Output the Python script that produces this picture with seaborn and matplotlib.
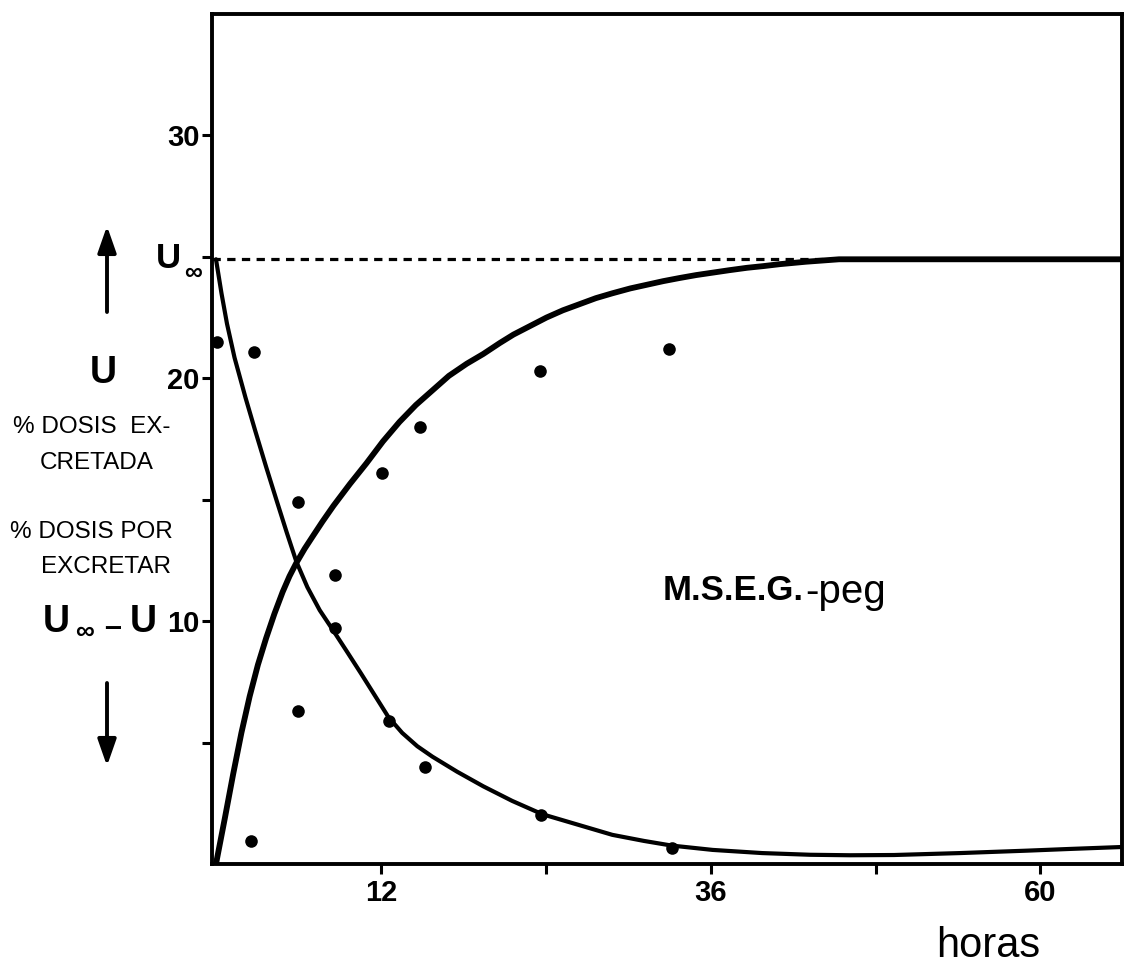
import matplotlib
matplotlib.use("Agg")
import matplotlib.pyplot as plt
import seaborn as sns

# Urinary excretion of M.S.E.G.-peg: cumulative excreted U and remaining U_inf - U (% dose) vs hours
U_INF = 24.9

# fitted curve, cumulative amount excreted (U)
curve_u_hours = [0, 0.65, 1.25, 1.85, 2.45, 3.05, 3.65, 4.25, 4.85, 5.35, 5.85, 6.45, 7.05,
                 7.75, 8.55, 9.75, 10.95, 12.15, 13.35, 14.55, 15.75, 16.95, 18.25, 19.45,
                 20.65, 21.65, 22.85, 24.05, 25.25, 26.45, 27.65, 28.85, 30.15, 31.35,
                 32.55, 33.75, 34.95, 36.15, 37.35, 38.65, 39.85, 41.05, 42.95, 45.35, 65.94]
curve_u_pct = [0, 1.9, 3.7, 5.4, 6.9, 8.2, 9.3, 10.3, 11.2, 11.85, 12.4, 12.98, 13.5,
               14.1, 14.75, 15.65, 16.5, 17.4, 18.2, 18.9, 19.5, 20.1, 20.6, 21.0, 21.45,
               21.8, 22.15, 22.5, 22.8, 23.05, 23.3, 23.5, 23.7, 23.85, 24.0, 24.13, 24.25,
               24.35, 24.45, 24.55, 24.62, 24.7, 24.8, 24.9, 24.9]

# fitted curve, amount still to be excreted (U_inf - U)
curve_rem_hours = [0, 0.4, 0.8, 1.35, 2.15, 2.85, 3.65, 4.45, 5.15, 5.85, 6.65, 7.55,
                   8.55, 9.55, 10.55, 11.55, 12.55, 13.55, 14.65, 15.75, 17.55, 19.45,
                   21.55, 23.75, 26.45, 28.85, 31.15, 33.15, 36.15, 39.75, 43.25, 46.15,
                   49.35, 54.15, 59.05, 62.15, 65.94]
curve_rem_pct = [24.9, 23.5, 22.25, 20.85, 19.2, 17.85, 16.35, 14.9, 13.65, 12.45, 11.4,
                 10.45, 9.6, 8.73, 7.85, 6.95, 6.05, 5.4, 4.85, 4.42, 3.8, 3.2, 2.6,
                 2.05, 1.6, 1.2, 0.95, 0.76, 0.58, 0.45, 0.38, 0.36, 0.37, 0.45, 0.55,
                 0.62, 0.7]

# observed values
obs_u_hours = [2.55, 5.97, 8.66, 12.08, 14.85, 23.58, 32.97]
obs_u_pct = [0.95, 6.3, 11.9, 16.1, 18.0, 20.3, 21.2]
obs_rem_hours = [0.07, 2.8, 5.97, 8.66, 12.59, 15.21, 23.65, 33.19]
obs_rem_pct = [21.5, 21.1, 14.9, 9.7, 5.9, 4.0, 2.0, 0.66]

x_ticks = [12, 24, 36, 48, 60]
x_tick_labels = ["12", "", "36", "", "60"]
y_ticks = [5, 10, 15, 20, 25, 30]
y_tick_labels = ["", "10", "", "20", "", "30"]

sns.set_theme(style="ticks")
FAM = ["Liberation Sans", "DejaVu Sans"]
plt.rcParams["font.family"] = FAM

W, H = 1125, 975
fig = plt.figure(figsize=(W / 100, H / 100), dpi=100)
fig.patch.set_facecolor("white")
ax = fig.add_axes([212 / W, 1 - 864 / H, (1122 - 212) / W, (864 - 14) / H])
ax.set_facecolor("white")

ax.axhline(U_INF, color="black", lw=2.3, ls=(0, (2.6, 2.0)), zorder=1)
sns.lineplot(x=curve_rem_hours, y=curve_rem_pct, ax=ax, color="black", lw=3.0,
             estimator=None, sort=False, zorder=2)
sns.lineplot(x=curve_u_hours, y=curve_u_pct, ax=ax, color="black", lw=4.2,
             estimator=None, sort=False, zorder=2)
sns.scatterplot(x=obs_u_hours, y=obs_u_pct, ax=ax, s=82, color="black",
                linewidth=0, zorder=3)
sns.scatterplot(x=obs_rem_hours, y=obs_rem_pct, ax=ax, s=82, color="black",
                linewidth=0, zorder=3)

ax.set_xlim(-0.29, 65.94)
ax.set_ylim(0, 35)
ax.set_xticks(x_ticks, labels=x_tick_labels)
ax.set_yticks(y_ticks, labels=y_tick_labels)
ax.tick_params(direction="out", length=7, width=2.2, color="black",
               labelsize=21, pad=2, labelcolor="black")
ax.tick_params(axis="x", pad=4)
for lab in ax.get_xticklabels() + ax.get_yticklabels():
    lab.set_fontweight("bold")
ax.set_xlabel("")
ax.set_ylabel("")
for side in ["left", "right", "top", "bottom"]:
    ax.spines[side].set_visible(True)
    ax.spines[side].set_color("black")
    ax.spines[side].set_linewidth(2.8)


def fx(x):
    return x / W


def fy(y):
    return 1 - y / H


def ftext(x, y, s, size, weight="normal", ha="center"):
    fig.text(fx(x), fy(y), s, fontsize=size, fontweight=weight, ha=ha,
             va="center", color="black", family=FAM)


# U_inf marker beside the axis
ftext(168, 258, "U", 25, "bold")
ftext(193, 273, "∞", 18, "bold")

# left-hand legend text
ftext(103, 373, "U", 27, "bold")
ftext(92, 427, "% DOSIS  EX-", 17.5)
ftext(97, 463, "CRETADA", 17.5)
ftext(91, 532, "% DOSIS POR", 17.5)
ftext(106, 567, "EXCRETAR", 17.5)
ftext(56, 622, "U", 27, "bold")
ftext(84, 632, "∞", 19, "bold")
ftext(113, 628, "–", 22, "bold")
ftext(143, 622, "U", 27, "bold")

arrow = dict(arrowstyle="-|>,head_length=0.8,head_width=0.28", lw=2.8, color="black",
             mutation_scale=20, shrinkA=0, shrinkB=0)
fig.add_artist(plt.Annotation("", xy=(fx(107), fy(226)), xytext=(fx(107), fy(312)),
                              xycoords="figure fraction", textcoords="figure fraction",
                              arrowprops=arrow))
fig.add_artist(plt.Annotation("", xy=(fx(107), fy(766)), xytext=(fx(107), fy(683)),
                              xycoords="figure fraction", textcoords="figure fraction",
                              arrowprops=arrow))

# compound name
ftext(663, 590, "M.S.E.G.", 25, "bold", ha="left")
ftext(805, 592, "-peg", 29, ha="left")

# time axis caption
ftext(988, 946, "horas", 30)

fig.savefig("out.png", dpi=100, facecolor="white")
